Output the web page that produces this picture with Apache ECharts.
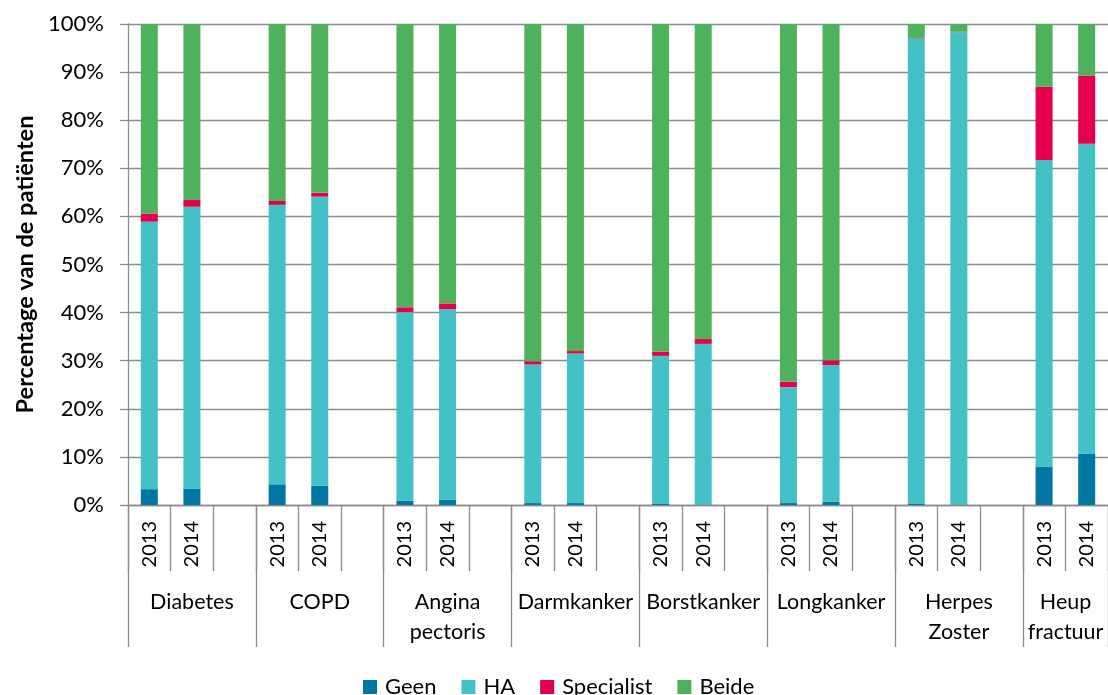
<!DOCTYPE html>
<html>
<head>
<meta charset="utf-8">
<title>Percentage van de patiënten</title>
<script src="https://cdn.jsdelivr.net/npm/echarts@6/dist/echarts.min.js"></script>
<style>
  html, body { margin: 0; padding: 0; background: #fff; }
  #chart { width: 1108px; height: 695px; }
</style>
</head>
<body>
<div id="chart"></div>
<script>
// aandoeningen en jaren
const groups = ['Diabetes', 'COPD', 'Angina\npectoris', 'Darmkanker', 'Borstkanker', 'Longkanker', 'Herpes\nZoster', 'Heup\nfractuur']
const years = ['2013', '2014']

// per aandoening: 2013, 2014 (percentages)
const geen = [3.3, 3.4, 4.3, 4.0, 0.9, 1.1, 0.4, 0.4, 0.2, 0.1, 0.4, 0.7, 0.2, 0.1, 8.0, 10.7]
const ha = [55.6, 58.6, 58.1, 60.1, 39.2, 39.6, 28.8, 31.1, 30.8, 33.4, 24.1, 28.4, 96.8, 98.2, 63.7, 64.4]
const specialist = [1.7, 1.4, 0.8, 0.8, 1.0, 1.2, 0.7, 0.5, 0.9, 1.0, 1.1, 1.0, 0.1, 0.1, 15.3, 14.2]
const beide = [39.4, 36.6, 36.8, 35.1, 58.9, 58.1, 70.1, 68.0, 68.1, 65.5, 74.4, 69.9, 2.9, 1.6, 13.0, 10.7]

const yTicks = { min: 0, max: 100, interval: 10 }

const grey = '#8c8c8c'
const font = 'Lato, "Liberation Sans", sans-serif'

// na elke groep een lege kolom, behalve na de laatste
const yearSlots = []
const groupSlots = []
groups.forEach((g, gi) => {
  const last = gi === groups.length - 1
  years.forEach(y => yearSlots.push(y))
  if (last) {
    groupSlots.push({ value: g, textStyle: { padding: [0, 0, 0, 43] } }, '')
  } else {
    yearSlots.push('')
    groupSlots.push('', g, '')
  }
})

function slots (values) {
  const out = []
  groups.forEach((g, gi) => {
    years.forEach((y, yi) => out.push(values[gi * years.length + yi]))
    if (gi < groups.length - 1) out.push('-')
  })
  return out
}

const seriesDefs = [
  { name: 'Geen', data: geen, color: '#0076a2' },
  { name: 'HA', data: ha, color: '#43c1c6' },
  { name: 'Specialist', data: specialist, color: '#e4004a' },
  { name: 'Beide', data: beide, color: '#4eb15b' }
]

const chart = echarts.init(document.getElementById('chart'))
chart.setOption({
  animation: false,
  textStyle: { fontFamily: font },
  grid: { left: 128, top: 24, width: 989, height: 481 },
  legend: {
    left: 358,
    top: 671,
    icon: 'rect',
    itemWidth: 14,
    itemHeight: 14,
    itemGap: 25,
    textStyle: { fontSize: 22, color: '#000', fontFamily: font, padding: [0, 0, 0, 3] },
    data: seriesDefs.map(s => s.name)
  },
  xAxis: [
    {
      type: 'category',
      data: yearSlots,
      position: 'bottom',
      axisLine: { show: true, lineStyle: { color: grey, width: 1.3 } },
      axisTick: { show: true, interval: 0, length: 66, lineStyle: { color: grey, width: 1.3 } },
      axisLabel: { interval: 0, rotate: 90, margin: 16, fontSize: 20, color: '#000', fontFamily: font }
    },
    {
      type: 'category',
      data: groupSlots,
      position: 'bottom',
      axisLine: { show: false },
      axisTick: {
        show: true,
        length: 142,
        interval: (i) => i % 3 === 0,
        lineStyle: { color: grey, width: 1.3 }
      },
      axisLabel: { interval: 0, margin: 82, fontSize: 21.5, lineHeight: 30, color: '#000', fontFamily: font }
    }
  ],
  yAxis: {
    type: 'value',
    min: yTicks.min,
    max: yTicks.max,
    interval: yTicks.interval,
    name: 'Percentage van de patiënten',
    nameLocation: 'middle',
    nameGap: 88,
    nameTextStyle: { fontSize: 23.5, fontWeight: 'bold', color: '#000', fontFamily: font },
    axisLine: { show: true, lineStyle: { color: grey, width: 1.3 } },
    axisTick: { show: true, length: 8, lineStyle: { color: grey, width: 1.3 } },
    axisLabel: { formatter: '{value}%', fontSize: 22, color: '#000', margin: 24, fontFamily: font },
    splitLine: { show: true, lineStyle: { color: grey, width: 1.3 } }
  },
  series: seriesDefs.map(s => ({
    name: s.name,
    type: 'bar',
    stack: 'totaal',
    xAxisIndex: 0,
    barWidth: 17,
    itemStyle: { color: s.color },
    data: slots(s.data)
  }))
})
</script>
</body>
</html>
